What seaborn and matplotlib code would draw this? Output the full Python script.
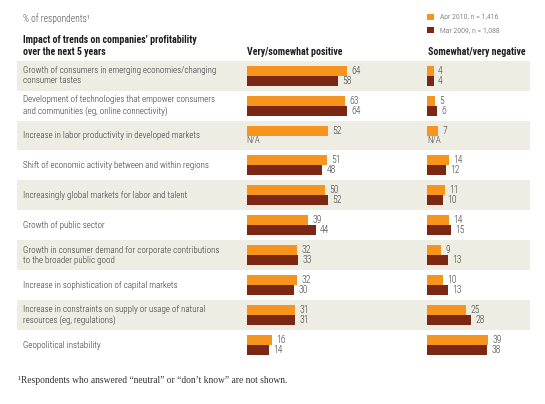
import numpy as np
import pandas as pd
import matplotlib
matplotlib.use("Agg")
import matplotlib.pyplot as plt
import matplotlib.transforms as mtransforms
from matplotlib.patches import Rectangle
import seaborn as sns

# ---------------- data ----------------
categories = [
    "Growth of consumers in emerging economies/changing\nconsumer tastes",
    "Development of technologies that empower consumers\nand communities (eg, online connectivity)",
    "Increase in labor productivity in developed markets",
    "Shift of economic activity between and within regions",
    "Increasingly global markets for labor and talent",
    "Growth of public sector",
    "Growth in consumer demand for corporate contributions\nto the broader public good",
    "Increase in sophistication of capital markets",
    "Increase in constraints on supply or usage of natural\nresources (eg, regulations)",
    "Geopolitical instability",
]
periods = ["Apr 2010, n = 1,416", "Mar 2009, n = 1,088"]
pos_2010 = [64, 63, 52, 51, 50, 39, 32, 32, 31, 16]
pos_2009 = [58, 64, np.nan, 48, 52, 44, 33, 30, 31, 14]
neg_2010 = [4, 5, 7, 14, 11, 14, 9, 10, 25, 39]
neg_2009 = [4, 6, np.nan, 12, 10, 15, 13, 13, 28, 38]

ORANGE = "#F7941E"
DARK = "#7A2713"
BAND = "#EEEDE4"
TXT = "#333333"
NUM = "#404040"
LIGHT = "light"

sns.set_theme(style="white")
plt.rcParams["font.family"] = ["Roboto Condensed", "DejaVu Sans"]
FS = 6.45

W, H = 545, 404
fig = plt.figure(figsize=(W / 100, H / 100), dpi=100)
fig.patch.set_facecolor("white")


def fx(px):
    return px / W


def fy(py):
    return 1 - py / H


TOP, BOT = 60.6, 360.2
PXU = 1.567  # pixels per percentage point
n = len(categories)

# background bands
bg = fig.add_axes([fx(17.3), fy(BOT), (529.5 - 17.3) / W, (BOT - TOP) / H])
bg.set_xlim(0, 1)
bg.set_ylim(n - 0.5, -0.5)
for i in range(0, n, 2):
    bg.axhspan(i - 0.5, i + 0.5, color=BAND, lw=0)
bg.axis("off")

# row labels
tr = mtransforms.blended_transform_factory(fig.transFigure, bg.transData)
for i, c in enumerate(categories):
    bg.text(fx(22.7), i, c, transform=tr, ha="left", va="center",
            fontsize=FS, color=TXT, linespacing=1.22, fontweight=LIGHT)


def make_df(a, b):
    return pd.DataFrame({
        "category": categories * 2,
        "period": [periods[0]] * n + [periods[1]] * n,
        "value": list(a) + list(b),
    })


def draw(ax, df, xmax, vals):
    sns.barplot(data=df, x="value", y="category", hue="period",
                palette=[ORANGE, DARK], width=2 / 3, orient="h",
                saturation=1, ax=ax, legend=False, errorbar=None,
                linewidth=0)
    ax.set_xlim(0, xmax)
    ax.set_ylim(n - 0.5, -0.5)
    ax.axis("off")
    ax.patch.set_alpha(0)
    off = 4.4 / PXU
    for cont in ax.containers:
        for bar in cont:
            w = bar.get_width()
            if w is None or np.isnan(w) or w == 0:
                continue
            yc = bar.get_y() + bar.get_height() / 2
            ax.text(w + off, yc, f"{w:.0f}", ha="left", va="center",
                    fontsize=6.9, color=NUM, fontweight=LIGHT)
    for i, v in enumerate(vals):
        if np.isnan(v):
            ax.text(0, i + 1 / 6, "N/A", ha="left", va="center",
                    fontsize=FS, color=NUM, fontweight=LIGHT)


axp = fig.add_axes([fx(246.7), fy(BOT), 100 * PXU / W, (BOT - TOP) / H])
draw(axp, make_df(pos_2010, pos_2009), 100, pos_2009)
axn = fig.add_axes([fx(427.3), fy(BOT), 60 * PXU / W, (BOT - TOP) / H])
draw(axn, make_df(neg_2010, neg_2009), 60, neg_2009)

# headers
fig.text(fx(22.7), fy(18.3), "% of respondents¹", ha="left", va="center",
         fontsize=6.85, color="#505050", fontweight=LIGHT)
fig.text(fx(22.7), fy(46), "Impact of trends on companies’ profitability\nover the next 5 years",
         ha="left", va="center", fontsize=7.15, fontweight="bold",
         color="#1e1e1e", linespacing=1.2)
fig.text(fx(247.3), fy(51.7), "Very/somewhat positive", ha="left", va="center",
         fontsize=7.15, fontweight="bold", color="#1e1e1e")
fig.text(fx(428.3), fy(51.7), "Somewhat/very negative", ha="left", va="center",
         fontsize=7.15, fontweight="bold", color="#1e1e1e")

# legend
for k, (col, yc) in enumerate(zip([ORANGE, DARK], [17.3, 30.2])):
    fig.patches.append(Rectangle((fx(427.3), fy(yc + 3.1)), 6.2 / W, 6.2 / H,
                                 transform=fig.transFigure, color=col, lw=0))
    fig.text(fx(440), fy(yc), periods[k], ha="left", va="center",
             fontsize=5.6, color="#505050", fontweight=LIGHT)

# footnote
fig.text(fx(18.3), fy(380.7),
         "¹Respondents who answered “neutral” or “don’t know” are not shown.",
         ha="left", va="center", fontsize=6.88, color="#333333",
         family=["Liberation Serif", "DejaVu Serif"])

fig.savefig("out.png", dpi=100, facecolor="white")
